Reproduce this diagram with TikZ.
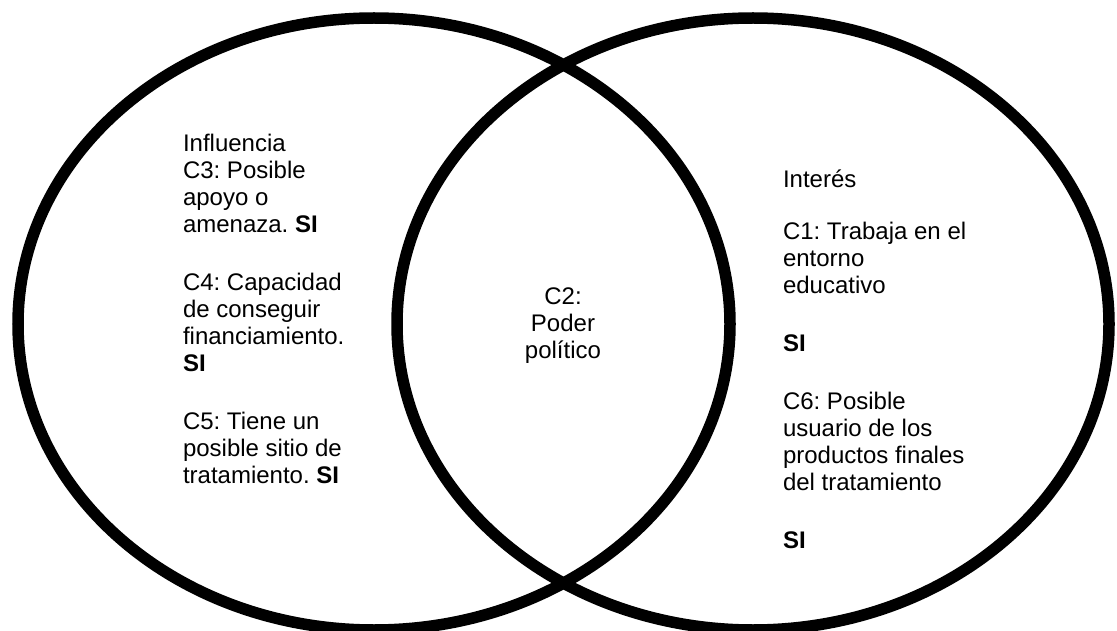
\documentclass[tikz,border=0pt]{standalone}
\usepackage{fontspec}
\setmainfont{Liberation Sans}
\usetikzlibrary{shapes.geometric}
\frenchspacing
\begin{document}
\begin{tikzpicture}[x=1pt,y=-1pt,
  venn/.style={draw=black, line width=11.5pt, ellipse, inner sep=0pt, outer sep=0pt,
    minimum width=712pt, minimum height=612pt},
  txt/.style={inner sep=0pt, outer sep=0pt, text=black,
    font=\fontsize{24}{27}\selectfont}]
\useasboundingbox (0,0) rectangle (1117,631);
\node[venn] (L) at (374,324) {};
\node[venn] (R) at (753,324) {};
\node[txt, align=left, anchor=north west] (infl) at (183,134)
  {Influencia\\
   C3: Posible\\
   apoyo o\\
   amenaza. \textbf{SI}\\[31pt]
   C4: Capacidad\\
   de conseguir\\
   financiamiento.\\
   \textbf{SI}\\[31pt]
   C5: Tiene un\\
   posible sitio de\\
   tratamiento. \textbf{SI}};
\node[txt, align=center] (c2) at (563,326)
  {C2:\\ Poder\\ político};
\node[txt, align=left, anchor=north west] (inte) at (783,170)
  {Interés\\[25pt]
   C1: Trabaja en el\\
   entorno\\
   educativo\\[31pt]
   \textbf{SI}\\[31pt]
   C6: Posible\\
   usuario de los\\
   productos finales\\
   del tratamiento\\[31pt]
   \textbf{SI}};
\end{tikzpicture}
\end{document}
